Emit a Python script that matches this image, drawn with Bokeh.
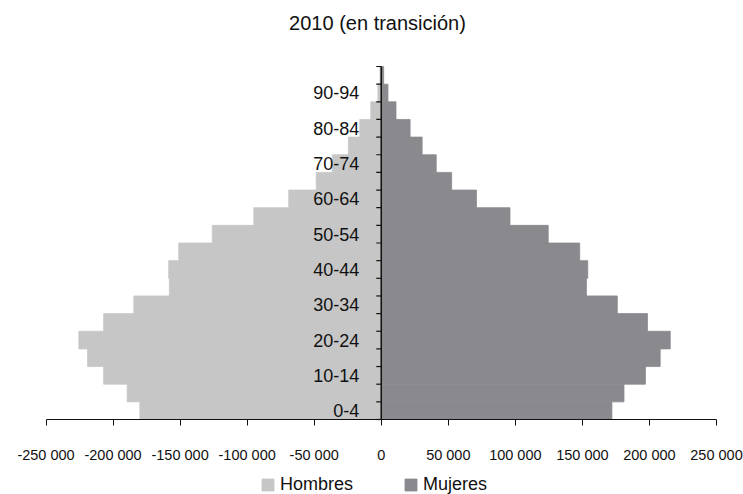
import math
from bokeh.plotting import figure
from bokeh.models import (Range1d, LinearAxis, FixedTicker, Legend, LegendItem,
                          ColumnDataSource, Label)
from bokeh.core.properties import value
from bokeh.embed import file_html
from bokeh.resources import INLINE

categories = ["0-4", "5-9", "10-14", "15-19", "20-24", "25-29", "30-34", "35-39",
              "40-44", "45-49", "50-54", "55-59", "60-64", "65-69", "70-74",
              "75-79", "80-84", "85-89", "90-94", "95-99"]
hombres = [-180000, -189500, -207000, -219000, -225500, -207000, -184500, -158000,
           -158500, -151000, -126000, -95000, -69000, -48500, -36500,
           -24500, -16000, -7800, -2500, -900]
mujeres = [172000, 181000, 197000, 208000, 215500, 198500, 176000, 153000,
           154000, 148000, 124500, 96000, 71000, 52500, 41000,
           30500, 21500, 11000, 5000, 1800]
x_ticks = [-250000, -200000, -150000, -100000, -50000, 0,
           50000, 100000, 150000, 200000, 250000]
x_tick_labels = ["-250 000", "-200 000", "-150 000", "-100 000", "-50 000", "0",
                 "50 000", "100 000", "150 000", "200 000", "250 000"]
title_text = "2010 (en transición)"

FONT = "Liberation Sans"
C_H = "#c6c6c6"
C_M = "#8a898e"
W, H = 743, 494
n = len(categories)
idx = list(range(n))
centers = [i + 0.5 for i in idx]

# layout (pixels): axis from -250000 at x=45.5 to 250000 at x=716;
# age bands occupy y=66..419; the frame covers the whole canvas
X0_PX, X1_PX = 45.5, 716.0
TOP_PX, BASE_PX = 66.0, 419.0
units_per_px = (x_ticks[-1] - x_ticks[0]) / (X1_PX - X0_PX)
band_px = (BASE_PX - TOP_PX) / n
x_start = x_ticks[0] - X0_PX * units_per_px
x_end = x_ticks[-1] + (W - X1_PX) * units_per_px
y_start = -(H - BASE_PX) / band_px
y_end = n + TOP_PX / band_px

src = ColumnDataSource(dict(y=centers, h=hombres, m=mujeres, cat=categories))

p = figure(width=W, height=H, output_backend="svg", toolbar_location=None,
           x_range=Range1d(x_start, x_end), y_range=Range1d(y_start, y_end),
           x_axis_location=None, y_axis_location=None,
           min_border_left=0, min_border_right=0, min_border_top=0,
           min_border_bottom=0)
p.outline_line_color = None
p.xgrid.visible = False
p.ygrid.visible = False
p.title.visible = False

p.add_layout(Label(x=377, y=H - 22, x_units="screen", y_units="screen",
                   text=title_text, text_align="center", text_baseline="middle",
                   text_font=FONT, text_font_size="20px", text_color="#111111"))

r_h = p.hbar(y="y", right="h", left=0, height=1, source=src,
             fill_color=C_H, line_color=C_H, line_width=0.8)
r_m = p.hbar(y="y", right="m", left=0, height=1, source=src,
             fill_color=C_M, line_color=C_M, line_width=0.8)

# x axis placed at y = 0 (base of the pyramid)
xax = LinearAxis(ticker=FixedTicker(ticks=x_ticks), fixed_location=0,
                 bounds=(x_ticks[0], x_ticks[-1]),
                 major_label_overrides={t: l for t, l in zip(x_ticks, x_tick_labels)})
xax.major_tick_out = 6
xax.major_tick_in = 0
xax.minor_tick_out = 0
xax.minor_tick_in = 0
xax.major_label_standoff = 21
xax.major_label_text_font = FONT
xax.major_label_text_font_size = "14.5px"
xax.major_label_text_color = "#111111"
xax.axis_line_color = "#111111"
xax.major_tick_line_color = "#111111"
xax.axis_line_width = 1.2
p.add_layout(xax, "below")

# central axis: line, ticks at band boundaries, labels every other group
bounds = list(range(n + 1))
p.segment(x0=[0], y0=[0], x1=[0], y1=[n], line_color="#111111", line_width=1.5)
p.ray(x=[0] * len(bounds), y=bounds, length=5, length_units="screen",
      angle=math.pi, line_color="#111111", line_width=1.2)
lab_y = [centers[i] for i in idx if i % 2 == 0]
lab_t = [categories[i] for i in idx if i % 2 == 0]
p.text(x=[0] * len(lab_y), y=lab_y, text=lab_t, x_offset=-22,
       text_align="right", text_baseline="middle", text_font=value(FONT),
       text_font_size="18px", text_color="#111111")

legend = Legend(items=[LegendItem(label="Hombres", renderers=[r_h]),
                       LegendItem(label="Mujeres", renderers=[r_m])],
                orientation="horizontal", location=(260, -1),
                glyph_width=15, glyph_height=15, label_standoff=5, spacing=50,
                label_height=20,
                label_text_font=FONT, label_text_font_size="18px",
                label_text_color="#111111", border_line_color=None,
                background_fill_alpha=0, padding=0, margin=0)
p.add_layout(legend)

open("out.html", "w").write(file_html(p, INLINE))
